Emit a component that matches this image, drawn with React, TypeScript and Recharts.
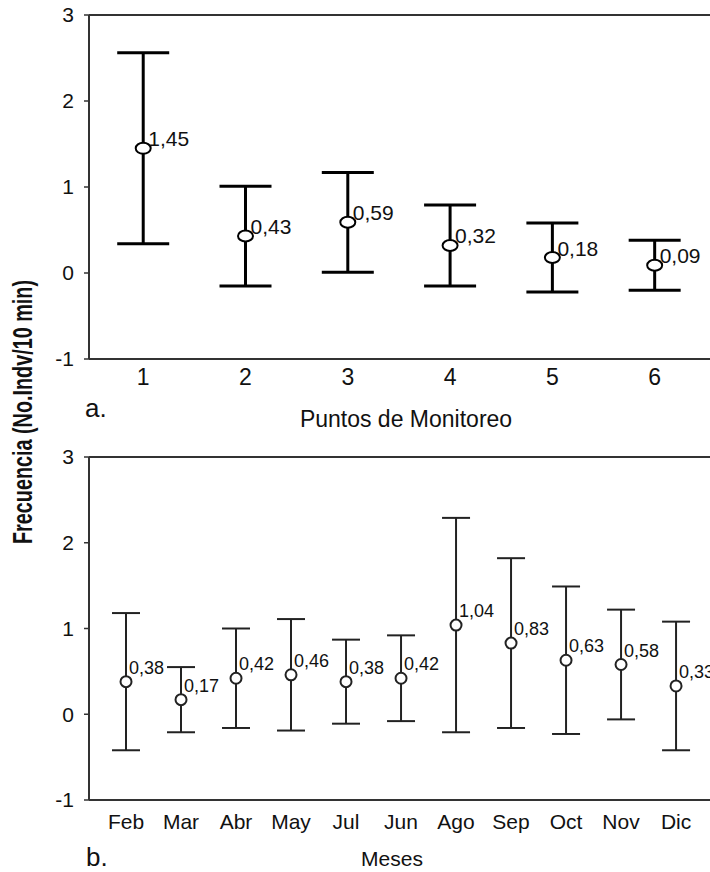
import React from "react";
import { ScatterChart, Scatter, XAxis, YAxis, ErrorBar, ReferenceLine } from "recharts";

// Panel a: monitoring points
const puntos = ["1", "2", "3", "4", "5", "6"];
const puntosMedia = [1.45, 0.43, 0.59, 0.32, 0.18, 0.09];
const puntosError = [1.11, 0.58, 0.58, 0.47, 0.4, 0.29];

// Panel b: months
const meses = ["Feb", "Mar", "Abr", "May", "Jul", "Jun", "Ago", "Sep", "Oct", "Nov", "Dic"];
const mesesMedia = [0.38, 0.17, 0.42, 0.46, 0.38, 0.42, 1.04, 0.83, 0.63, 0.58, 0.33];
const mesesError = [0.8, 0.38, 0.58, 0.65, 0.49, 0.5, 1.25, 0.99, 0.86, 0.64, 0.75];

const yTicks = [-1, 0, 1, 2, 3];

const dataA = puntos.map((p, i) => ({ x: i + 1, y: puntosMedia[i], err: puntosError[i], name: p }));
const dataB = meses.map((m, i) => ({ x: i, y: mesesMedia[i], err: mesesError[i], name: m }));

const FONT = "'Liberation Sans', Arial, sans-serif";
const fmt = (v: number) => v.toFixed(2).replace(".", ",");

const ShapeA = (props: any) => {
  const { cx, cy, payload } = props;
  return (
    <g>
      <ellipse cx={cx} cy={cy} rx={7.5} ry={5.5} fill="#fff" stroke="#000" strokeWidth={2} />
      <text x={cx + 5} y={cy - 2} fontSize={21} fontFamily={FONT} fill="#111">
        {fmt(payload.y)}
      </text>
    </g>
  );
};

const ShapeB = (props: any) => {
  const { cx, cy, payload } = props;
  return (
    <g>
      <circle cx={cx} cy={cy} r={5.5} fill="#fff" stroke="#222" strokeWidth={2} />
      <text x={cx + 3} y={cy - 8} fontSize={18} fontFamily={FONT} fill="#111">
        {fmt(payload.y)}
      </text>
    </g>
  );
};

export default function App() {
  return (
    <div
      style={{
        position: "absolute",
        left: 0,
        top: 0,
        width: 710,
        height: 872,
        overflow: "hidden",
        background: "#fff",
        fontFamily: FONT,
      }}
    >
      <div style={{ position: "absolute", left: 0, top: 0 }}>
        <ScatterChart width={720} height={440} margin={{ top: 15, right: 6, bottom: 11, left: 0 }}>
          <XAxis
            type="number"
            dataKey="x"
            domain={[0.47, 6.58]}
            ticks={[1, 2, 3, 4, 5, 6]}
            tickFormatter={(v: number) => puntos[v - 1] ?? ""}
            height={70}
            tickSize={0}
            tickMargin={10}
            tickLine={false}
            axisLine={{ stroke: "#333", strokeWidth: 2 }}
            tick={{ fontSize: 23, fill: "#111", fontFamily: FONT }}
            allowDataOverflow
          />
          <YAxis
            type="number"
            dataKey="y"
            domain={[-1, 3]}
            ticks={yTicks}
            width={89}
            tickSize={5}
            tickMargin={10}
            tickLine={{ stroke: "#333", strokeWidth: 1.5 }}
            axisLine={{ stroke: "#333", strokeWidth: 2 }}
            tick={{ fontSize: 21, fill: "#111", fontFamily: FONT }}
            allowDataOverflow
          />
          <ReferenceLine y={3} stroke="#333" strokeWidth={2} />
          <Scatter data={dataA} shape={ShapeA} isAnimationActive={false}>
            <ErrorBar dataKey="err" direction="y" width={26} strokeWidth={3} stroke="#000" />
          </Scatter>
        </ScatterChart>
      </div>

      <div style={{ position: "absolute", left: 0, top: 440 }}>
        <ScatterChart width={720} height={432} margin={{ top: 17, right: 6, bottom: 2, left: 0 }}>
          <XAxis
            type="number"
            dataKey="x"
            domain={[-0.673, 10.69]}
            ticks={meses.map((_, i) => i)}
            tickFormatter={(v: number) => meses[v] ?? ""}
            height={70}
            tickSize={0}
            tickMargin={14}
            tickLine={false}
            axisLine={{ stroke: "#333", strokeWidth: 2 }}
            tick={{ fontSize: 21, fill: "#111", fontFamily: FONT }}
            allowDataOverflow
          />
          <YAxis
            type="number"
            dataKey="y"
            domain={[-1, 3]}
            ticks={yTicks}
            width={89}
            tickSize={5}
            tickMargin={10}
            tickLine={{ stroke: "#333", strokeWidth: 1.5 }}
            axisLine={{ stroke: "#333", strokeWidth: 2 }}
            tick={{ fontSize: 21, fill: "#111", fontFamily: FONT }}
            allowDataOverflow
          />
          <ReferenceLine y={3} stroke="#333" strokeWidth={2} />
          <Scatter data={dataB} shape={ShapeB} isAnimationActive={false}>
            <ErrorBar dataKey="err" direction="y" width={14} strokeWidth={2} stroke="#222" />
          </Scatter>
        </ScatterChart>
      </div>

      <svg
        width={710}
        height={872}
        style={{ position: "absolute", left: 0, top: 0, pointerEvents: "none" }}
      >
        <text
          transform="translate(32,412) rotate(-90)"
          textAnchor="middle"
          fontSize={27}
          fontWeight="bold"
          fontFamily={FONT}
          fill="#111"
          textLength={264}
          lengthAdjust="spacingAndGlyphs"
        >
          Frecuencia (No.Indv/10 min)
        </text>
        <text x={406} y={427} textAnchor="middle" fontSize={23} fontFamily={FONT} fill="#111">
          Puntos de Monitoreo
        </text>
        <text x={392} y={866} textAnchor="middle" fontSize={21} fontFamily={FONT} fill="#111">
          Meses
        </text>
        <text x={85} y={417} fontSize={26} fontFamily={FONT} fill="#111">
          a.
        </text>
        <text x={86} y={866} fontSize={26} fontFamily={FONT} fill="#111">
          b.
        </text>
      </svg>
    </div>
  );
}
